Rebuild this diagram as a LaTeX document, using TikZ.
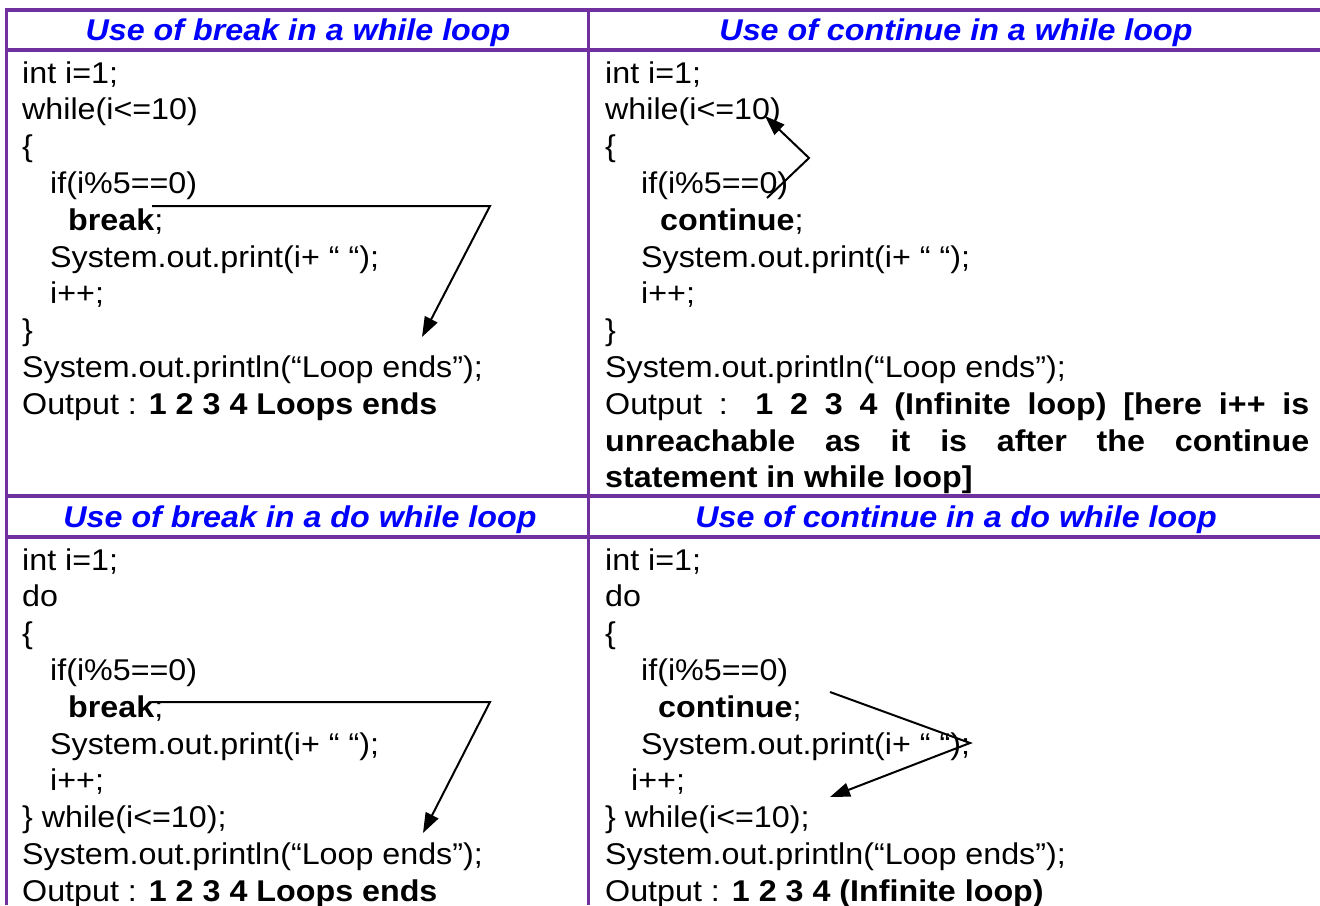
\documentclass[tikz,border=0pt]{standalone}
\usepackage{fontspec}
\usepackage{graphicx}
\setmainfont{Liberation Sans}
\usetikzlibrary{arrows.meta}

\definecolor{tablepurple}{HTML}{7030A0}
\definecolor{headblue}{HTML}{0000FF}

% body text is Arial-like, set slightly wide
\newcommand{\codefont}{\fontsize{30}{36.8}\selectfont}
\newcommand{\sx}[1]{\scalebox{1.075}[1]{#1}}

\tikzset{
  code/.style={anchor=base west, inner sep=0pt, font=\codefont},
  head/.style={anchor=base, inner sep=0pt, font=\codefont\bfseries\itshape, text=headblue},
  hrule/.style={draw=tablepurple, line width=4pt},
  vrule/.style={draw=tablepurple, line width=3pt},
  flow/.style={draw=black, line width=2pt, -{Triangle[length=20pt,width=14pt]}},
}

\begin{document}
\begin{tikzpicture}[x=1pt,y=-1pt]
\useasboundingbox (0,0) rectangle (1320,905);

% ---- table rules ----
\draw[hrule] (5,10) -- (1320,10);
\draw[hrule] (5,50) -- (1320,50);
\draw[hrule] (5,496) -- (1320,496);
\draw[hrule] (5,537) -- (1320,537);
\draw[vrule] (6.5,8) -- (6.5,905);
\draw[vrule] (588,8) -- (588,905);

% ---- headers ----
\node[head] (h1) at (298,40)  {\sx{Use of break in a while loop}};
\node[head] (h2) at (956,40)  {\sx{Use of continue in a while loop}};
\node[head] (h3) at (300,527) {\sx{Use of break in a do while loop}};
\node[head] (h4) at (956,527) {\sx{Use of continue in a do while loop}};

% ---- break in a while loop ----
\node[code] (a0) at (22,83)    {\sx{int i=1;}};
\node[code] (a1) at (22,119.8) {\sx{while(i<=10)}};
\node[code] (a2) at (22,156.6) {\sx{\{}};
\node[code] (a3) at (50,193.4) {\sx{if(i\%5==0)}};
\node[code] (a4) at (68,230.2) {\sx{\textbf{break};}};
\node[code] (a5) at (50,267)   {\sx{System.out.print(i+ “ “);}};
\node[code] (a6) at (50,303.8) {\sx{i++;}};
\node[code] (a7) at (22,340.6) {\sx{\}}};
\node[code] (a8) at (22,377.4) {\sx{System.out.println(“Loop ends”);}};
\node[code] (a9) at (22,414.2) {\sx{Output : \textbf{1 2 3 4 Loops ends}}};

% ---- continue in a while loop ----
\node[code] (b0) at (605,83)    {\sx{int i=1;}};
\node[code] (b1) at (605,119.8) {\sx{while(i<=10)}};
\node[code] (b2) at (605,156.6) {\sx{\{}};
\node[code] (b3) at (641,193.4) {\sx{if(i\%5==0)}};
\node[code] (b4) at (660,230.2) {\sx{\textbf{continue};}};
\node[code] (b5) at (641,267)   {\sx{System.out.print(i+ “ “);}};
\node[code] (b6) at (641,303.8) {\sx{i++;}};
\node[code] (b7) at (605,340.6) {\sx{\}}};
\node[code] (b8) at (605,377.4) {\sx{System.out.println(“Loop ends”);}};
\node[code] (b9) at (605,414.2) {\sx{\makebox[655pt][s]{Output : \textbf{1 2 3 4 (Infinite loop) [here i++ is}}}};
\node[code] (b10) at (605,451)  {\sx{\makebox[655pt][s]{\textbf{unreachable as it is after the continue}}}};
\node[code] (b11) at (605,487.8) {\sx{\textbf{statement in while loop]}}};

% ---- break in a do while loop ----
\node[code] (c0) at (22,570)   {\sx{int i=1;}};
\node[code] (c1) at (22,606.8) {\sx{do}};
\node[code] (c2) at (22,643.6) {\sx{\{}};
\node[code] (c3) at (50,680.4) {\sx{if(i\%5==0)}};
\node[code] (c4) at (68,717.2) {\sx{\textbf{break};}};
\node[code] (c5) at (50,754)   {\sx{System.out.print(i+ “ “);}};
\node[code] (c6) at (50,790.8) {\sx{i++;}};
\node[code] (c7) at (22,827.6) {\sx{\} while(i<=10);}};
\node[code] (c8) at (22,864.4) {\sx{System.out.println(“Loop ends”);}};
\node[code] (c9) at (22,901.2) {\sx{Output : \textbf{1 2 3 4 Loops ends}}};

% ---- continue in a do while loop ----
\node[code] (d0) at (605,570)   {\sx{int i=1;}};
\node[code] (d1) at (605,606.8) {\sx{do}};
\node[code] (d2) at (605,643.6) {\sx{\{}};
\node[code] (d3) at (641,680.4) {\sx{if(i\%5==0)}};
\node[code] (d4) at (658,717.2) {\sx{\textbf{continue};}};
\node[code] (d5) at (641,754)   {\sx{System.out.print(i+ “ “);}};
\node[code] (d6) at (631,790.8) {\sx{i++;}};
\node[code] (d7) at (605,827.6) {\sx{\} while(i<=10);}};
\node[code] (d8) at (605,864.4) {\sx{System.out.println(“Loop ends”);}};
\node[code] (d9) at (605,901.2) {\sx{Output : \textbf{1 2 3 4 (Infinite loop)}}};

% ---- control-flow arrows ----
\coordinate (ap) at (152,206);
\coordinate (aq) at (490,206);
\coordinate (ar) at (422,337);
\draw[flow] (ap) -- (aq) -- (ar);

\coordinate (bp) at (767,198);
\coordinate (bq) at (809,158);
\coordinate (br) at (765,116);
\draw[flow] (bp) -- (bq) -- (br);

\coordinate (cp) at (152,702);
\coordinate (cq) at (490,702);
\coordinate (cr) at (423,833);
\draw[flow] (cp) -- (cq) -- (cr);

\coordinate (dp) at (830,692);
\coordinate (dq) at (970,743);
\coordinate (dr) at (830,797);
\draw[flow] (dp) -- (dq) -- (dr);
\end{tikzpicture}
\end{document}
